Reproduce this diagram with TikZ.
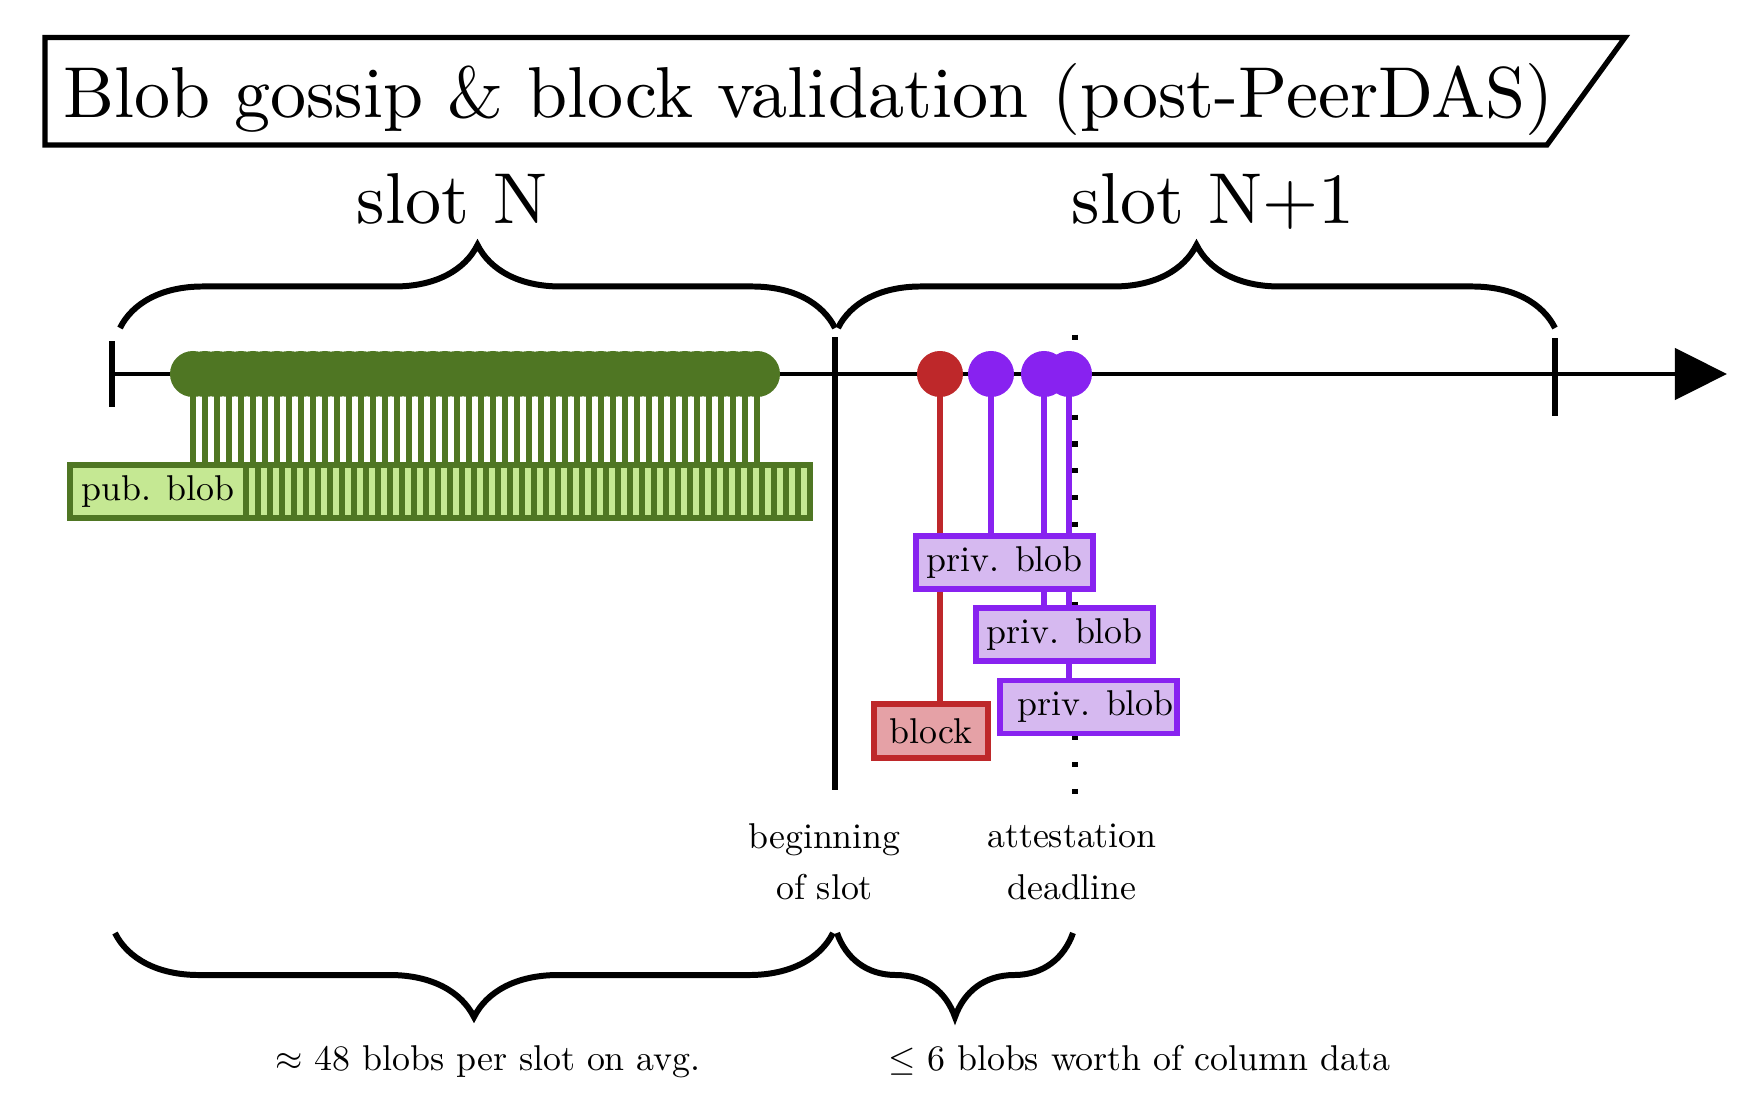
\documentclass[tikz,border=0pt]{standalone}
\usepackage{graphicx}
\usetikzlibrary{decorations.pathreplacing,arrows.meta,backgrounds}
\definecolor{gdark}{RGB}{79,118,35}
\definecolor{glight}{RGB}{197,232,147}
\definecolor{rdark}{RGB}{190,40,42}
\definecolor{rlight}{RGB}{229,161,166}
\definecolor{pdark}{RGB}{136,34,240}
\definecolor{plight}{RGB}{214,185,240}
\newcommand{\bigtxt}[1]{\scalebox{2.05}{#1}}
\begin{document}
\begin{tikzpicture}[x=0.01cm,y=-0.01cm,
  smallfont/.style={font=\fontsize{10.2}{14.6}\selectfont},
  bigtext/.style={font=\fontsize{10}{12}\selectfont, inner sep=0pt},
  blackline/.style={line width=1.45pt, black},
  bracestyle/.style={decorate, decoration={brace, amplitude=0.83cm}, line width=1.7pt},
  blobdot/.style={circle, minimum size=0.46cm, inner sep=0pt},
  pubbox/.style={draw=gdark, fill=glight, line width=1.6pt, minimum width=1.76cm, minimum height=0.535cm, inner sep=0pt, smallfont},
  privbox/.style={draw=pdark, fill=plight, line width=1.65pt, minimum width=1.77cm, minimum height=0.53cm, inner sep=0pt, smallfont},
  blockbox/.style={draw=rdark, fill=rlight, line width=1.65pt, minimum width=1.14cm, minimum height=0.54cm, inner sep=0pt, smallfont},
  gconn/.style={gdark, line width=1.9pt},
  rconn/.style={rdark, line width=1.6pt},
  pconn/.style={pdark, line width=1.6pt},
]
\useasboundingbox (0,0) rectangle (1744,1118);

% title
\coordinate (t1) at (45,37.5);
\coordinate (t2) at (1625,37.5);
\coordinate (t3) at (1547,145);
\coordinate (t4) at (45,145);
\draw[line width=1.5pt, line join=miter] (t1) -- (t2) -- (t3) -- (t4) -- cycle;
\node[bigtext, anchor=base west] (title) at (62.5,117) {\bigtxt{Blob gossip \& block validation (post-PeerDAS)}};

% slot labels
\node[bigtext, anchor=base] (slotN) at (452,223) {\bigtxt{slot N}};
\node[bigtext, anchor=base] (slotN1) at (1213,223) {\bigtxt{slot N+1}};

% top braces
\coordinate (b1s) at (120,328);
\coordinate (b1e) at (835,328);
\coordinate (b2s) at (838,328);
\coordinate (b2e) at (1555,328);
\draw[bracestyle] (b1s) -- (b1e);
\draw[bracestyle] (b2s) -- (b2e);

% axis
\coordinate (a0) at (112,374);
\coordinate (a1) at (1727,374);
\draw[line width=1.25pt, -{Triangle[length=0.52cm,width=0.51cm]}] (a0) -- (a1);

% ticks
\coordinate (lt1) at (112,341);
\coordinate (lt2) at (112,407);
\draw[blackline] (lt1) -- (lt2);
\coordinate (bs1) at (835,337);
\coordinate (bs2) at (835,790);
\draw[blackline] (bs1) -- (bs2);
\coordinate (rt1) at (1555,338);
\coordinate (rt2) at (1555,416);
\draw[blackline] (rt1) -- (rt2);

% public blobs
\foreach \i in {0,...,47} {
  \node[blobdot, fill=gdark] (g\i) at ({193+12*\i},374) {};
}
\foreach \i in {47,46,...,1} {
  \node[pubbox] (p\i) at ({158+12*\i},491.5) {};
}
\node[pubbox] (p0) at (158,491.5) {pub. blob};

% block and private blobs
\node[blobdot, fill=rdark] (r) at (940,374) {};
\node[blobdot, fill=pdark] (q1) at (991,374) {};
\node[blobdot, fill=pdark] (q2) at (1044,374) {};
\node[blobdot, fill=pdark] (q3) at (1069,374) {};
\node[privbox] (pb1) at (1004.5,562.5) {priv. blob};
\node[privbox] (pb2) at (1064.5,634.5) {priv. blob};
\node[privbox] (pb3) at (1088.5,707) {\hspace{4pt}priv. blob};
\node[blockbox] (blk) at (931,731) {block};

\begin{scope}[on background layer]
  \coordinate (d0) at (1075,334.5);
  \coordinate (d1) at (1075,797);
  \draw[line width=1.45pt, dash pattern=on 1.45pt off 6.15pt] (d0) -- (d1);
  \foreach \i in {0,...,47} {
    \draw[gconn] (g\i.center) -- (g\i.center |- p\i.north);
  }
  \draw[rconn] (r.center) -- (r.center |- blk.north);
  \draw[pconn] (q1.center) -- (q1.center |- pb1.north);
  \draw[pconn] (q2.center) -- (q2.center |- pb2.north);
  \draw[pconn] (q3.center) -- (q3.center |- pb3.north);
\end{scope}

% labels below
\node[smallfont, align=center] (lbeg) at (824.5,862) {beginning\\of slot};
\node[smallfont, align=center] (latt) at (1072,862) {attestation\\deadline};

% bottom braces
\coordinate (c1s) at (115,933);
\coordinate (c1e) at (833,933);
\coordinate (c2s) at (837,933);
\coordinate (c2e) at (1073,933);
\draw[bracestyle, decoration={brace, mirror, amplitude=0.84cm}] (c1s) -- (c1e);
\draw[bracestyle, decoration={brace, mirror, amplitude=0.84cm}] (c2s) -- (c2e);

\node[smallfont, anchor=base] (lab1) at (488,1070) {$\approx$ 48 blobs per slot on avg.};
\node[smallfont, anchor=base] (lab2) at (1139,1070) {$\leq$ 6 blobs worth of column data};
\end{tikzpicture}
\end{document}
